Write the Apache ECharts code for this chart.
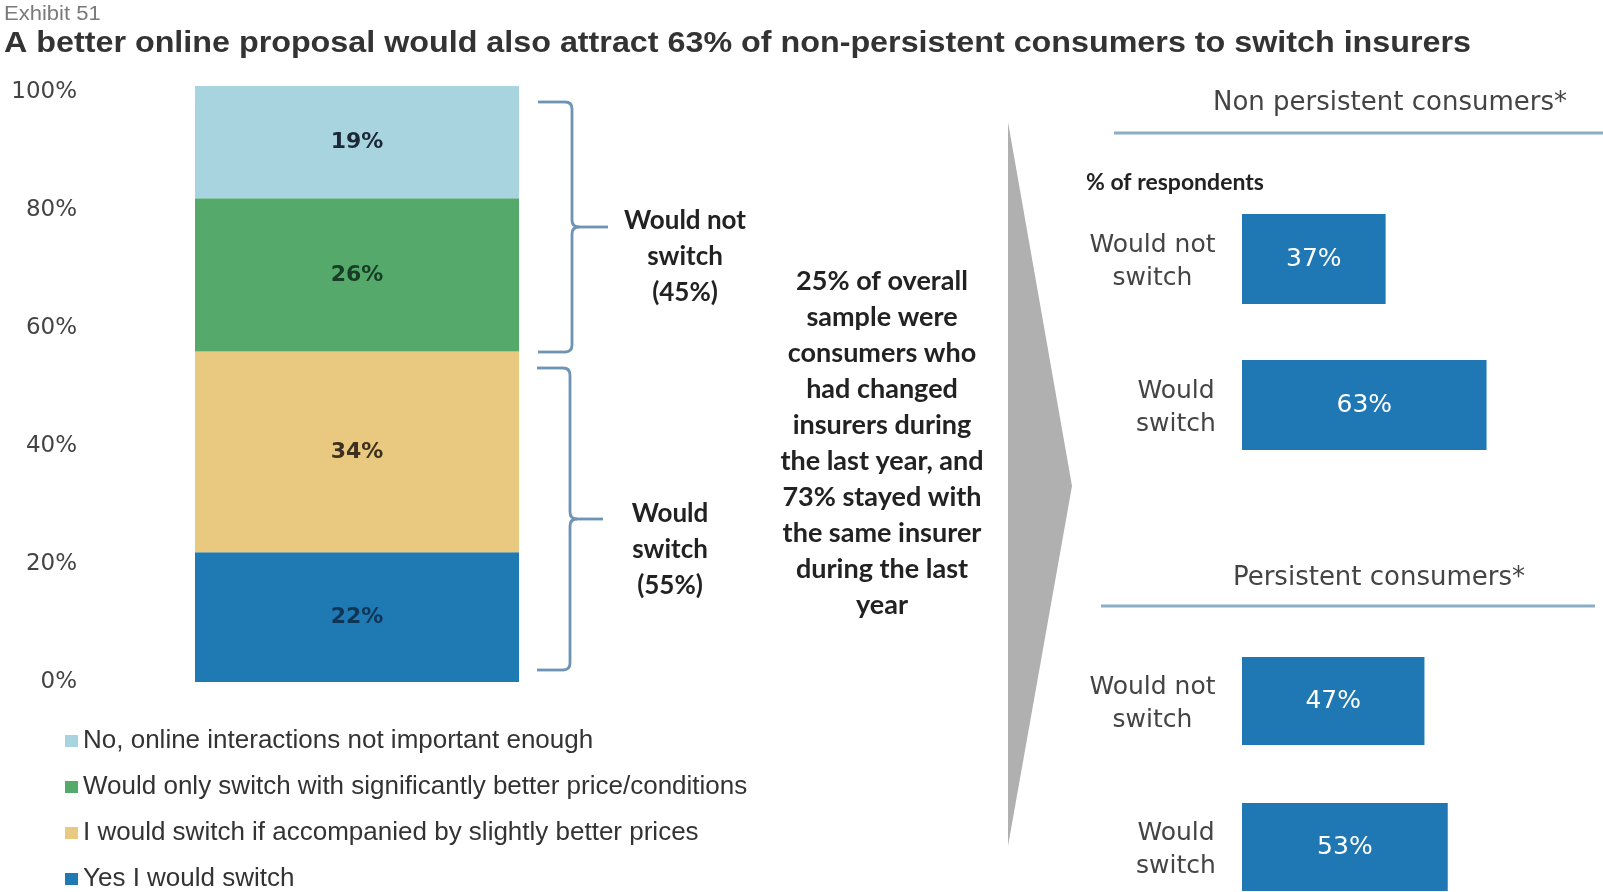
<!DOCTYPE html>
<html>
<head>
<meta charset="utf-8">
<script src="https://cdn.jsdelivr.net/npm/echarts@6/dist/echarts.min.js"></script>
<style>
  html, body { margin: 0; padding: 0; background: #ffffff; }
  #chart { width: 1603px; height: 892px; }
</style>
</head>
<body>
<div id="chart"></div>
<script>
// ---- data ----
const stackCategory = ['All respondents'];
const stackNames = [
  'Yes I would switch',
  'I would switch if accompanied by slightly better prices',
  'Would only switch with significantly better price/conditions',
  'No, online interactions not important enough'
];
const stackValues = [22, 34, 26, 19];
const legendOrder = [
  'No, online interactions not important enough',
  'Would only switch with significantly better price/conditions',
  'I would switch if accompanied by slightly better prices',
  'Yes I would switch'
];
const answerCategories = ['Would not\nswitch', 'Would\nswitch'];
const nonPersistentValues = [37, 63];
const persistentValues = [47, 53];
const bracketLabels = ['Would not\nswitch\n(45%)', 'Would\nswitch\n(55%)'];
const noteText = '25% of overall\nsample were\nconsumers who\nhad changed\ninsurers during\nthe last year, and\n73% stayed with\nthe same insurer\nduring the last\nyear';
const titleText = 'A better online proposal would also attract 63% of non-persistent consumers to switch insurers';

// ---- styles ----
const stackColors = ['#1f7ab4', '#e8c97f', '#55aa6b', '#a8d4e0'];
const stackLabelColors = ['#0e3556', '#3d3020', '#173d24', '#1b2838'];
const barBlue = '#1f77b4';
const bracketColor = '#6f93b5';
const boldFont = 'Lato, "Open Sans", sans-serif';
const plainFont = '"DejaVu Sans", sans-serif';
const arialFont = '"Liberation Sans", Arial, sans-serif';

// text measuring, used for centred category lines and the title width
const measureCtx = document.createElement('canvas').getContext('2d');
function textWidth(str, font) {
  measureCtx.font = font;
  return measureCtx.measureText(str).width;
}
const catRich = {};
answerCategories.forEach((c, i) => {
  const w = Math.ceil(Math.max(...c.split('\n').map(l => textWidth(l, '25px "DejaVu Sans"'))));
  catRich['c' + i] = { width: w, align: 'center', fontSize: 25, lineHeight: 33, fontFamily: plainFont, color: '#444' };
});
function catFormatter(value, index) {
  return value.split('\n').map(l => '{c' + index + '|' + l + '}').join('\n');
}
const titleScale = 1467 / textWidth(titleText, 'bold 29px "Liberation Sans"');

// curly brace made of straight runs and rounded corners
function brace(xLeft, xSpine, yTop, yTip, yBottom, xTip, r) {
  const st = { stroke: bracketColor, lineWidth: 2.8, fill: 'none' };
  const ln = (x1, y1, x2, y2) => ({ type: 'line', silent: true, shape: { x1, y1, x2, y2 }, style: st });
  const qc = (x1, y1, cx, cy, x2, y2) => ({ type: 'bezierCurve', silent: true, shape: { x1, y1, x2, y2, cpx1: cx, cpy1: cy }, style: st });
  return [
    ln(xLeft, yTop, xSpine - r, yTop),
    qc(xSpine - r, yTop, xSpine, yTop, xSpine, yTop + r),
    ln(xSpine, yTop + r, xSpine, yTip - r),
    qc(xSpine, yTip - r, xSpine, yTip, xSpine + r, yTip),
    ln(xSpine + r, yTip, xTip, yTip),
    qc(xSpine + r, yTip, xSpine, yTip, xSpine, yTip + r),
    ln(xSpine, yTip + r, xSpine, yBottom - r),
    qc(xSpine, yBottom - r, xSpine, yBottom, xSpine - r, yBottom),
    ln(xSpine - r, yBottom, xLeft, yBottom)
  ];
}

const chart = echarts.init(document.getElementById('chart'));

const stackSeries = stackNames.map((name, i) => ({
  name: name,
  type: 'bar',
  stack: 'total',
  xAxisIndex: 0,
  yAxisIndex: 0,
  barWidth: '100%',
  clip: false,
  itemStyle: { color: stackColors[i] },
  label: {
    show: true,
    position: 'inside',
    formatter: '{c}%',
    fontFamily: plainFont,
    fontWeight: 'bold',
    fontSize: 22,
    color: stackLabelColors[i]
  },
  data: [stackValues[i]]
}));

function answerSeries(values, axisIdx, barW) {
  return {
    type: 'bar',
    xAxisIndex: axisIdx,
    yAxisIndex: axisIdx,
    barWidth: barW,
    clip: false,
    itemStyle: { color: barBlue },
    label: {
      show: true,
      position: 'inside',
      formatter: '{c}%',
      fontFamily: plainFont,
      fontSize: 25,
      color: '#ffffff'
    },
    data: values
  };
}

// the right-hand panels run to the page edge: 361px wide covering 0..93%
const hiddenValueAxis = (idx) => ({
  type: 'value', gridIndex: idx, min: 0, max: 93, show: false
});
// categories sit on the grid's top and bottom edges, 146px apart
const answerAxis = (idx) => ({
  type: 'category', gridIndex: idx, inverse: true, boundaryGap: false, data: answerCategories,
  axisLine: { show: false }, axisTick: { show: false }, splitLine: { show: false },
  axisLabel: { margin: 26, formatter: catFormatter, rich: catRich, padding: [5, 0, 0, 0] }
});

const option = {
  animation: false,
  backgroundColor: '#ffffff',
  legend: {
    orient: 'vertical',
    left: 65,
    top: 728,
    height: 220,
    padding: 0,
    data: legendOrder,
    icon: 'rect',
    itemWidth: 13,
    itemHeight: 12,
    itemGap: 20,
    selectedMode: false,
    textStyle: { fontFamily: arialFont, fontSize: 26, lineHeight: 26, color: '#333333' }
  },
  grid: [
    { left: 195, top: 92, width: 324, height: 590 },
    { left: 1242, top: 259, width: 361, height: 146 },
    { left: 1242, top: 701, width: 361, height: 146 }
  ],
  xAxis: [
    { type: 'category', gridIndex: 0, data: stackCategory, show: false },
    hiddenValueAxis(1),
    hiddenValueAxis(2)
  ],
  yAxis: [
    {
      type: 'value', gridIndex: 0, min: 0, max: 100, interval: 20,
      axisLine: { show: false }, axisTick: { show: false }, splitLine: { show: false },
      axisLabel: { formatter: '{value}%', margin: 118, fontFamily: plainFont, fontSize: 23, color: '#444444' }
    },
    answerAxis(1),
    answerAxis(2)
  ],
  series: stackSeries.concat([
    answerSeries(nonPersistentValues, 1, 90),
    answerSeries(persistentValues, 2, 88)
  ]),
  graphic: [
    {
      type: 'text', silent: true, x: 4, y: 14, scaleX: 1.1,
      style: { text: 'Exhibit 51', x: 0, y: 0, verticalAlign: 'middle', fontFamily: arialFont, fontSize: 20, fill: '#7a7a7a' }
    },
    {
      type: 'text', silent: true, x: 4, y: 44, scaleX: titleScale,
      style: { text: titleText, x: 0, y: 0, verticalAlign: 'middle', fontFamily: arialFont, fontWeight: 'bold', fontSize: 29, fill: '#333333' }
    },
    {
      type: 'text', silent: true,
      style: { text: bracketLabels[0], x: 685, y: 257, align: 'center', verticalAlign: 'middle', fontFamily: boldFont, fontWeight: 'bold', fontSize: 26, lineHeight: 36, fill: '#222222' }
    },
    {
      type: 'text', silent: true,
      style: { text: bracketLabels[1], x: 670, y: 550, align: 'center', verticalAlign: 'middle', fontFamily: boldFont, fontWeight: 'bold', fontSize: 26, lineHeight: 36, fill: '#222222' }
    },
    // note in the middle
    {
      type: 'text', silent: true,
      style: { text: noteText, x: 882, y: 443, align: 'center', verticalAlign: 'middle', fontFamily: boldFont, fontWeight: 'bold', fontSize: 27, lineHeight: 36, fill: '#222222' }
    },
    // grey arrow head pointing to the breakdown
    {
      type: 'polygon', silent: true,
      shape: { points: [[1008, 122], [1072, 486], [1008, 846]] },
      style: { fill: '#b0b0b0' }
    },
    // panel headings and rules
    {
      type: 'text', silent: true,
      style: { text: 'Non persistent consumers*', x: 1390, y: 103, align: 'center', verticalAlign: 'middle', fontFamily: plainFont, fontSize: 26, fill: '#444444' }
    },
    {
      type: 'line', silent: true,
      shape: { x1: 1114, y1: 133, x2: 1603, y2: 133 },
      style: { stroke: '#8aaec6', lineWidth: 3 }
    },
    {
      type: 'text', silent: true,
      style: { text: '% of respondents', x: 1086, y: 183, align: 'left', verticalAlign: 'middle', fontFamily: boldFont, fontWeight: 'bold', fontSize: 23, fill: '#222222' }
    },
    {
      type: 'text', silent: true,
      style: { text: 'Persistent consumers*', x: 1379, y: 578, align: 'center', verticalAlign: 'middle', fontFamily: plainFont, fontSize: 26, fill: '#444444' }
    },
    {
      type: 'line', silent: true,
      shape: { x1: 1101, y1: 606, x2: 1595, y2: 606 },
      style: { stroke: '#8aaec6', lineWidth: 3 }
    }
  ].concat(
    brace(538, 572, 102, 227, 352, 608, 7),
    brace(537, 570, 368, 519, 670, 603, 7)
  )
};

chart.setOption(option);
</script>
</body>
</html>
